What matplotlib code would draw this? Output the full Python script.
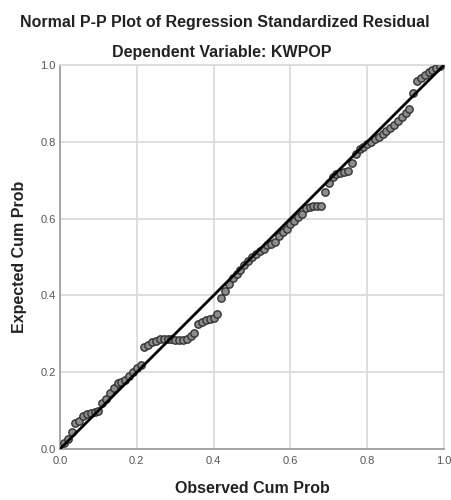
import matplotlib
matplotlib.use("Agg")
import matplotlib.pyplot as plt

observed = [0.01, 0.02, 0.03, 0.04, 0.05, 0.06, 0.07, 0.08, 0.09, 0.10,
            0.11, 0.12, 0.13, 0.14, 0.15, 0.16, 0.17, 0.18, 0.19, 0.20,
            0.21, 0.22, 0.23, 0.24, 0.25, 0.26, 0.27, 0.28, 0.29, 0.30,
            0.31, 0.32, 0.33, 0.34, 0.35, 0.36, 0.37, 0.38, 0.39, 0.40,
            0.41, 0.42, 0.43, 0.44, 0.45, 0.46, 0.47, 0.48, 0.49, 0.50,
            0.51, 0.52, 0.53, 0.54, 0.55, 0.56, 0.57, 0.58, 0.59, 0.60,
            0.61, 0.62, 0.63, 0.64, 0.65, 0.66, 0.67, 0.68, 0.69, 0.70,
            0.71, 0.72, 0.73, 0.74, 0.75, 0.76, 0.77, 0.78, 0.79, 0.80,
            0.81, 0.82, 0.83, 0.84, 0.85, 0.86, 0.87, 0.88, 0.89, 0.90,
            0.91, 0.92, 0.93, 0.94, 0.95, 0.96, 0.97, 0.98, 0.99]
expected = [0.015, 0.025, 0.045, 0.068, 0.072, 0.085, 0.09, 0.095, 0.097, 0.10,
            0.12, 0.13, 0.145, 0.16, 0.172, 0.175, 0.18, 0.19, 0.20, 0.21,
            0.22, 0.266, 0.272, 0.278, 0.282, 0.286, 0.287, 0.287, 0.286, 0.285,
            0.284, 0.284, 0.287, 0.295, 0.302, 0.325, 0.33, 0.335, 0.338, 0.342,
            0.352, 0.392, 0.412, 0.43, 0.445, 0.455, 0.465, 0.478, 0.49, 0.50,
            0.507, 0.515, 0.522, 0.53, 0.535, 0.54, 0.555, 0.565, 0.572, 0.585,
            0.595, 0.603, 0.612, 0.628, 0.631, 0.632, 0.632, 0.633, 0.67, 0.692,
            0.708, 0.715, 0.72, 0.722, 0.724, 0.745, 0.768, 0.78, 0.786, 0.795,
            0.80, 0.806, 0.812, 0.82, 0.828, 0.836, 0.845, 0.855, 0.865, 0.875,
            0.886, 0.926, 0.958, 0.965, 0.975, 0.982, 0.987, 0.992, 0.997]
ref_line = [0.0, 1.0]
ticks = [0.0, 0.2, 0.4, 0.6, 0.8, 1.0]
tick_labels = ["0.0", "0.2", "0.4", "0.6", "0.8", "1.0"]

plt.rcParams['font.family'] = ['Liberation Sans', 'DejaVu Sans']

fig = plt.figure(figsize=(4.52, 5.0), dpi=100)
ax = fig.add_axes([60/452, 1-449/500, 384/452, 384/500])

ax.scatter(observed, expected, s=28, facecolor='#8c8c8c', edgecolor='#333333',
           linewidth=1.0, zorder=3)
ax.plot(ref_line, ref_line, color='black', linewidth=2.0, zorder=4)

ax.set_xlim(0, 1)
ax.set_ylim(0, 1)
ax.set_xticks(ticks)
ax.set_yticks(ticks)
ax.set_xticklabels(tick_labels)
ax.set_yticklabels(tick_labels)
ax.tick_params(length=0, labelsize=8, colors='#555555')
ax.tick_params(axis='x', pad=5)
ax.tick_params(axis='y', pad=3)
ax.grid(True, color='#d9d9d9', linewidth=1.2, zorder=0)
ax.set_axisbelow(True)
for s in ['top', 'right']:
    ax.spines[s].set_color('#d9d9d9')
    ax.spines[s].set_linewidth(1.2)
for s in ['left', 'bottom']:
    ax.spines[s].set_color('#999999')
    ax.spines[s].set_linewidth(1.2)

ax.set_xlabel("Observed Cum Prob", fontsize=11.5, fontweight='bold', color='#222222', labelpad=11)
ax.set_ylabel("Expected Cum Prob", fontsize=11.5, fontweight='bold', color='#222222', labelpad=10)

fig.text(0.4975, 1-22/500, "Normal P-P Plot of Regression Standardized Residual",
         ha='center', va='center', fontsize=11.5, fontweight='bold', color='#222222')
fig.text(0.491, 1-53/500, "Dependent Variable: KWPOP",
         ha='center', va='center', fontsize=11.5, fontweight='bold', color='#222222')

fig.savefig("out.png", dpi=100)
